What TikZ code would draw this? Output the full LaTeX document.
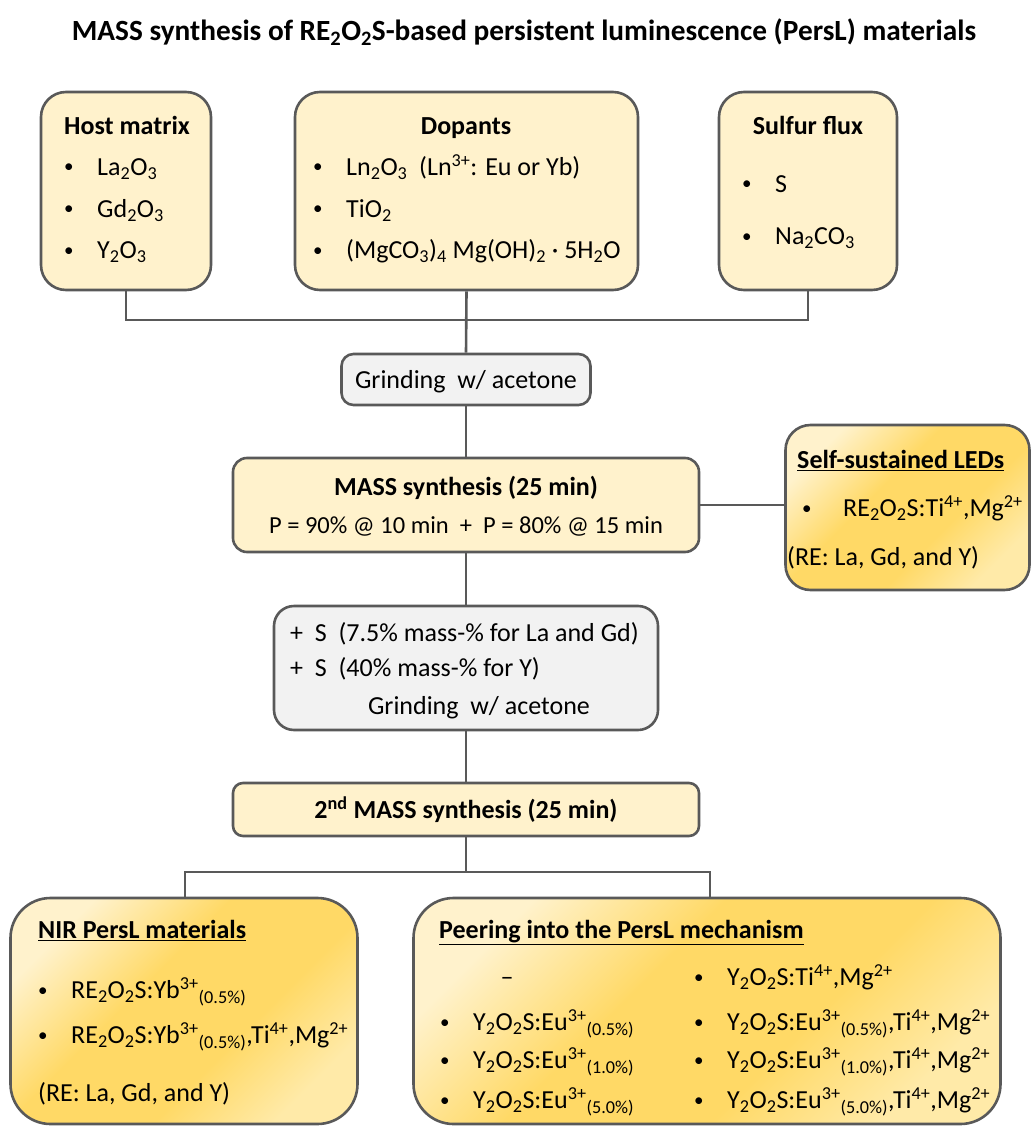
\documentclass[tikz,border=0pt]{standalone}
\usepackage{fontspec}
\setmainfont{Carlito}
\usetikzlibrary{calc}
\definecolor{edge}{HTML}{595959}
\definecolor{lightyel}{HTML}{FFF2CC}
\definecolor{grayfill}{HTML}{F2F2F2}
\definecolor{gA}{HTML}{FFF2CC}
\definecolor{gB}{HTML}{FFD966}
\definecolor{gC}{HTML}{FFEAA8}
\pgfdeclarehorizontalshading{goldgrad}{100bp}{color(0bp)=(gA); color(25bp)=(gA); color(42bp)=(gB); color(60bp)=(gB); color(75bp)=(gC); color(100bp)=(gC)}
\newcommand{\mysub}[1]{\textsubscript{#1}}
\newcommand{\mysup}[1]{\textsuperscript{#1}}
\newcommand{\smallbul}{\raisebox{2.5pt}{\fontsize{19}{19}\selectfont •}}
\newcommand{\bul}[1][33pt]{\makebox[#1][l]{\smallbul}}
\tikzset{
  box/.style={draw=edge, line width=2.6pt, inner sep=0pt},
  ybox/.style={box, fill=lightyel},
  gbox/.style={box, fill=grayfill},
  goldbox/.style={box, shading=goldgrad, shading angle=-45},
  conn/.style={draw=edge, line width=2.6pt},
  txt/.style={inner sep=0pt, text height=17pt, text depth=0pt, font=\fontsize{26}{31}\selectfont},
  btxt/.style={txt, font=\fontsize{26}{31}\selectfont\bfseries},
}
\begin{document}
\begin{tikzpicture}[x=1pt,y=-1pt]
\useasboundingbox (0,0) rectangle (1032,1126);
% title
\node[btxt, font=\fontsize{29.3}{34}\selectfont\bfseries] (title) at (524,32) {MASS synthesis of RE\mysub{2}O\mysub{2}S-based persistent luminescence (PersL) materials};
% boxes
\node[ybox, rounded corners=25pt, minimum width=170pt, minimum height=198pt] (host) at (126,191) {};
\node[ybox, rounded corners=25pt, minimum width=343pt, minimum height=198pt] (dop) at (466.5,191) {};
\node[ybox, rounded corners=25pt, minimum width=178pt, minimum height=198pt] (sul) at (808,191) {};
\node[gbox, rounded corners=12pt, minimum width=249pt, minimum height=51pt] (grind1) at (466,379.5) {};
\node[ybox, rounded corners=14pt, minimum width=466pt, minimum height=94pt] (mass1) at (466,505) {};
\node[goldbox, rounded corners=25pt, minimum width=244pt, minimum height=165pt] (leds) at (907.5,507.5) {};
\node[gbox, rounded corners=20pt, minimum width=384pt, minimum height=124pt] (sbox) at (466,668) {};
\node[ybox, rounded corners=10pt, minimum width=466pt, minimum height=53pt] (mass2) at (466,809.5) {};
\node[goldbox, rounded corners=40pt, minimum width=347pt, minimum height=226pt] (nir) at (184,1011) {};
\node[goldbox, rounded corners=40pt, minimum width=587pt, minimum height=226pt] (peer) at (707,1011) {};
% connectors
\coordinate (j1) at (466,320);
\coordinate (j2) at (466,872);
\coordinate (nirtop) at (185,898);
\coordinate (peertop) at (710,898);
\draw[conn] (host.south) |- (j1) -| (sul.south);
\draw[conn] (dop.south) -- (grind1.north);
\draw[conn] (grind1.south) -- (mass1.north);
\draw[conn] (mass1.east) -- (mass1.east -| leds.west);
\draw[conn] (mass1.south) -- (sbox.north);
\draw[conn] (sbox.south) -- (mass2.north);
\draw[conn] (mass2.south) -- (j2);
\draw[conn] (nirtop) |- (j2) -| (peertop);
% host text
\node[btxt] (hostT) at (127,126) {Host matrix};
\node[txt, anchor=west] (h1) at (64,167) {\bul La\mysub{2}O\mysub{3}};
\node[txt, anchor=west] (h2) at (64,209) {\bul Gd\mysub{2}O\mysub{3}};
\node[txt, anchor=west] (h3) at (64,250) {\bul Y\mysub{2}O\mysub{3}};
% dopants text
\node[btxt] (dopT) at (466,126) {Dopants};
\node[txt, anchor=west] (d1) at (313,167) {\bul Ln\mysub{2}O\mysub{3}\ \ (Ln\mysup{3+}: Eu or Yb)};
\node[txt, anchor=west] (d2) at (313,209) {\bul TiO\mysub{2}};
\node[txt, anchor=west] (d3) at (313,250) {\bul (MgCO\mysub{3})\mysub{4} Mg(OH)\mysub{2} · 5H\mysub{2}O};
% sulfur text
\node[btxt] (sulT) at (808,126) {Sulfur flux};
\node[txt, anchor=west] (s1) at (742,184) {\bul S};
\node[txt, anchor=west] (s2) at (742,236) {\bul Na\mysub{2}CO\mysub{3}};
% grinding
\node[txt] (grindT) at (466,380) {Grinding\ \ w/ acetone};
% mass 1
\node[btxt] (massT) at (466,487) {MASS synthesis (25 min)};
\node[txt, font=\fontsize{24.5}{30}\selectfont] (massP) at (466,525) {P = 90\% @ 10 min\ \ +\ \ P = 80\% @ 15 min};
% leds
\node[btxt, anchor=west] (ledsT) at (797,460) {\underline{Self-sustained LEDs}};
\node[txt, anchor=west] (l1) at (802,508) {\makebox[41pt][l]{\smallbul}RE\mysub{2}O\mysub{2}S:Ti\mysup{4+},Mg\mysup{2+}};
\node[txt, anchor=west] (l2) at (787,557) {(RE: La, Gd, and Y)};
% sulfur addition box
\node[txt, anchor=west] (sa1) at (290,633) {+\ \ S\ \ (7.5\% mass-\% for La and Gd)};
\node[txt, anchor=west] (sa2) at (290,668) {+\ \ S\ \ (40\% mass-\% for Y)};
\node[txt] (sa3) at (479,706) {Grinding\ \ w/ acetone};
% mass 2
\node[btxt] (mass2T) at (466,810) {2\mysup{nd} MASS synthesis (25 min)};
% NIR
\node[btxt, anchor=west] (nirT) at (38,930) {\underline{NIR PersL materials}};
\node[txt, anchor=west] (n1) at (38,990) {\bul RE\mysub{2}O\mysub{2}S:Yb\mysup{3+}\mysub{(0.5\%)}};
\node[txt, anchor=west] (n2) at (38,1035) {\bul RE\mysub{2}O\mysub{2}S:Yb\mysup{3+}\mysub{(0.5\%)},Ti\mysup{4+},Mg\mysup{2+}};
\node[txt, anchor=west] (n3) at (38,1093) {(RE: La, Gd, and Y)};
% peering
\node[btxt, anchor=west] (peerT) at (439,930) {\underline{Peering into the PersL mechanism}};
\node[txt] (pdash) at (507,977) {–};
\node[txt, anchor=west] (pl1) at (440,1022) {\bul Y\mysub{2}O\mysub{2}S:Eu\mysup{3+}\mysub{(0.5\%)}};
\node[txt, anchor=west] (pl2) at (440,1060) {\bul Y\mysub{2}O\mysub{2}S:Eu\mysup{3+}\mysub{(1.0\%)}};
\node[txt, anchor=west] (pl3) at (440,1100) {\bul Y\mysub{2}O\mysub{2}S:Eu\mysup{3+}\mysub{(5.0\%)}};
\node[txt, anchor=west] (pr0) at (694,977) {\bul Y\mysub{2}O\mysub{2}S:Ti\mysup{4+},Mg\mysup{2+}};
\node[txt, anchor=west] (pr1) at (694,1022) {\bul Y\mysub{2}O\mysub{2}S:Eu\mysup{3+}\mysub{(0.5\%)},Ti\mysup{4+},Mg\mysup{2+}};
\node[txt, anchor=west] (pr2) at (694,1060) {\bul Y\mysub{2}O\mysub{2}S:Eu\mysup{3+}\mysub{(1.0\%)},Ti\mysup{4+},Mg\mysup{2+}};
\node[txt, anchor=west] (pr3) at (694,1100) {\bul Y\mysub{2}O\mysub{2}S:Eu\mysup{3+}\mysub{(5.0\%)},Ti\mysup{4+},Mg\mysup{2+}};
\end{tikzpicture}
\end{document}
